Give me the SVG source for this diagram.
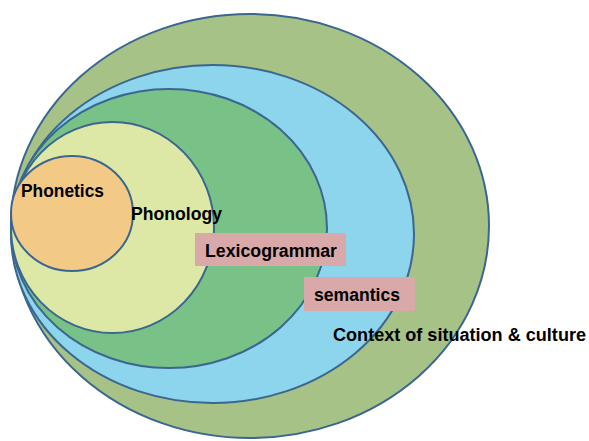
<svg xmlns="http://www.w3.org/2000/svg" width="589" height="441" viewBox="0 0 589 441">
  <style>
    .ring { stroke: #3B6690; stroke-width: 2; }
    .lbl { font-family: "Liberation Sans", Arial, sans-serif; font-weight: bold; font-size: 18px; fill: #000; }
    .tag { fill: #D9A9A9; }
  </style>
  <rect width="589" height="441" fill="#FFFFFF"/>

  <!-- nested layers, outermost first -->
  <g id="context">
    <ellipse class="ring" cx="250" cy="226" rx="239" ry="212" fill="#A6C287"/>
  </g>
  <g id="semantics-layer">
    <ellipse class="ring" cx="212.5" cy="234" rx="201.5" ry="169" fill="#8CD5EC"/>
  </g>
  <g id="lexicogrammar-layer">
    <ellipse class="ring" cx="169" cy="228.5" rx="158" ry="139.5" fill="#79C287"/>
  </g>
  <g id="phonology-layer">
    <ellipse class="ring" cx="112.5" cy="227.5" rx="101.5" ry="105.5" fill="#DEE8A6"/>
  </g>
  <g id="phonetics-layer">
    <ellipse class="ring" cx="72" cy="213.5" rx="61" ry="57.5" fill="#F2CA86"/>
  </g>

  <!-- labels -->
  <g id="labels">
    <text class="lbl" x="21" y="197" textLength="83" lengthAdjust="spacingAndGlyphs">Phonetics</text>
    <text class="lbl" x="131" y="220" textLength="91" lengthAdjust="spacingAndGlyphs">Phonology</text>
    <rect class="tag" x="195" y="233" width="151" height="33"/>
    <text class="lbl" x="205" y="257" textLength="132" lengthAdjust="spacingAndGlyphs">Lexicogrammar</text>
    <rect class="tag" x="304" y="277" width="111" height="34"/>
    <text class="lbl" x="314" y="301" textLength="86" lengthAdjust="spacingAndGlyphs">semantics</text>
    <text class="lbl" x="333" y="341" textLength="253" lengthAdjust="spacingAndGlyphs">Context of situation &amp; culture</text>
  </g>
</svg>
